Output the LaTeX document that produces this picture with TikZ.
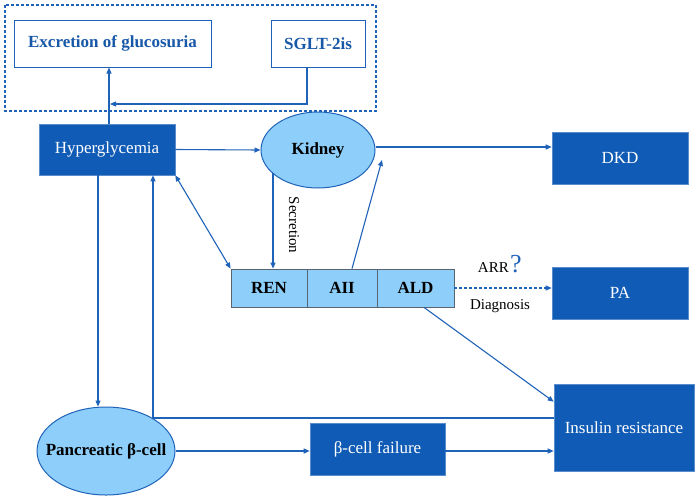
\documentclass[tikz,border=0pt]{standalone}
\usepackage{fontspec}
\setmainfont{Liberation Serif}
\usetikzlibrary{arrows.meta,shapes.geometric,calc}
\definecolor{dblue}{RGB}{16,91,181}
\definecolor{lblue}{RGB}{141,206,250}
\definecolor{lineblue}{RGB}{31,99,184}
\definecolor{tblue}{RGB}{24,88,168}
\definecolor{gbord}{RGB}{90,100,110}
\tikzset{
  x=1pt,y=-1pt,
  conn/.style={draw=lineblue,line width=1.1pt},
  arr/.style={conn,-{Triangle[length=6pt,width=5pt]}},
  darr/.style={conn,{Triangle[length=6pt,width=5pt]}-{Triangle[length=6pt,width=5pt]}},
  darkbox/.style={rectangle,fill=dblue,draw=dblue!70!white,line width=0.6pt,text=white,inner sep=0pt,font=\fontsize{17}{19}\selectfont},
  whitebox/.style={rectangle,draw=lineblue,line width=1pt,fill=white,text=tblue,inner sep=0pt,font=\bfseries\fontsize{17}{19}\selectfont},
  oval/.style={ellipse,fill=lblue,draw=lineblue,line width=1pt,inner sep=0pt,font=\bfseries\fontsize{17}{19}\selectfont},
  cell/.style={rectangle,fill=lblue,draw=gbord,line width=0.8pt,inner sep=0pt,minimum height=38pt,font=\bfseries\fontsize{17}{19}\selectfont},
  lab/.style={inner sep=0pt,font=\fontsize{15}{17}\selectfont}
}
\begin{document}
\begin{tikzpicture}
\useasboundingbox (0,0) rectangle (700,499);
% dashed group
\draw[draw=lineblue,line width=1.1pt,dash pattern=on 3pt off 2pt] (5,5) rectangle (376,111);
\node[whitebox,minimum width=197pt,minimum height=47pt] (excr) at (112.5,43.5) {Excretion of glucosuria};
\node[whitebox,minimum width=94pt,minimum height=47pt] (sglt) at (318,43.5) {SGLT-2is};
\node[darkbox,minimum width=136pt,minimum height=51pt] (hyper) at (107,149.5) {Hyperglycemia};
\node[oval,minimum width=114pt,minimum height=76pt] (kidney) at (318,150) {\makebox[0pt]{Kidney}};
\node[darkbox,minimum width=136pt,minimum height=52pt] (dkd) at (620,158) {DKD};
\node[darkbox,minimum width=136pt,minimum height=52pt] (pa) at (620,293) {PA};
\node[cell,minimum width=76pt] (ren) at (269,288) {REN};
\node[cell,minimum width=70pt] (aii) at (342,288) {AII};
\node[cell,minimum width=77pt] (ald) at (415.5,288) {ALD};
\node[oval,minimum width=138pt,minimum height=88pt] (panc) at (106,451) {\makebox[0pt]{Pancreatic β-cell}};
\node[darkbox,minimum width=135pt,minimum height=52pt] (bfail) at (377.5,449) {β-cell failure};
\node[darkbox,minimum width=140pt,minimum height=87pt] (ins) at (624,427.5) {Insulin resistance};
% labels
\node[lab,rotate=-90] (secr) at (294,225) {Secretion};
\node[lab,anchor=base east] (arr) at (509,272) {ARR};
\node[inner sep=0pt,anchor=base west,text=lineblue,font=\fontsize{26}{26}\selectfont] (qm) at (510,272) {?};
\node[lab] (diag) at (500,306) {Diagnosis};
% coordinates
\coordinate (j1) at (110,104);
\coordinate (ks) at (273,173);
\coordinate (kr) at (382,160);
% connectors
\draw[arr] ([xshift=-11pt]sglt.south) |- (j1);
\draw[arr] ([xshift=2pt]hyper.north) -- ([xshift=2pt]hyper.north |- excr.south);
\draw[arr] (hyper.east) -- (kidney.west);
\draw[arr] ([yshift=3pt]kidney.east) -- ([yshift=3pt]kidney.east -| dkd.west);
\draw[arr] (ks) -- (ks |- ren.north);
\draw[arr] ([xshift=10pt]aii.north) -- (kr);
\draw[darr] (hyper.south east) -- (ren.north west);
\draw[arr] ([xshift=-9pt]hyper.south) -- ([xshift=-9pt]hyper.south |- panc.north);
\draw[arr] ([yshift=9.5pt]ins.west) -| ([xshift=46pt]hyper.south);
\draw[arr] (panc.east) -- (panc.east -| bfail.west);
\draw[arr] ([yshift=-2pt]bfail.east) -- ([yshift=-2pt]bfail.east -| ins.west);
\draw[arr] ([xshift=8.5pt]ald.south) -- ([yshift=-18pt]ins.north west);
\draw[arr,dash pattern=on 3pt off 2pt] (ald.east) -- (ald.east -| pa.west);
\end{tikzpicture}
\end{document}
